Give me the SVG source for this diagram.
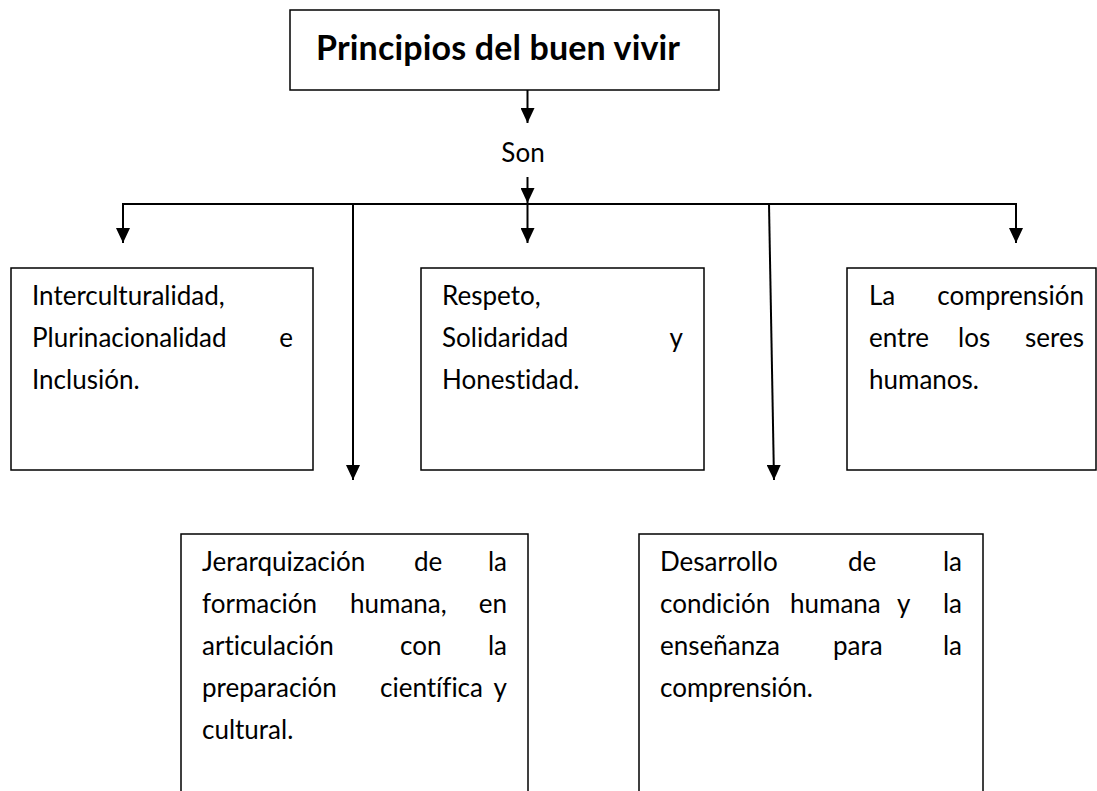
<svg xmlns="http://www.w3.org/2000/svg" width="1097" height="791" viewBox="0 0 1097 791">
<style>
.box{fill:#fff;stroke:#000;stroke-width:1.5}
.t{font-family:Lato,"Liberation Sans",sans-serif;font-size:26px;fill:#000;font-variant-ligatures:none;font-feature-settings:"liga" 0,"clig" 0}
.e{text-anchor:end}
.title{font-family:Lato,"Liberation Sans",sans-serif;font-size:34px;font-weight:bold;fill:#000}
.c{stroke:#000;stroke-width:2;fill:none}
</style>
<defs>
<marker id="ah" markerUnits="userSpaceOnUse" markerWidth="15" markerHeight="14" refX="15" refY="7" orient="auto">
<path d="M0,0 L15,7 L0,14 z" fill="#000"/>
</marker>
</defs>
<g id="connectors">
<line class="c" x1="527.5" y1="90" x2="527.5" y2="123" marker-end="url(#ah)"/>
<line class="c" x1="527.5" y1="177" x2="527.5" y2="203" marker-end="url(#ah)"/>
<line class="c" x1="122" y1="204" x2="1017" y2="204"/>
<line class="c" x1="123" y1="204" x2="123" y2="243" marker-end="url(#ah)"/>
<line class="c" x1="527.5" y1="204" x2="527.5" y2="243" marker-end="url(#ah)"/>
<line class="c" x1="1016" y1="204" x2="1016" y2="243" marker-end="url(#ah)"/>
<line class="c" x1="353" y1="204" x2="353" y2="480" marker-end="url(#ah)"/>
<line class="c" x1="769" y1="204" x2="774" y2="480" marker-end="url(#ah)"/>
</g>
<g id="title">
<rect class="box" x="290" y="10" width="429" height="80"/>
<text class="title" x="316" y="60" textLength="364">Principios del buen vivir</text>
</g>
<g id="son">
<text class="t" x="523" y="162" text-anchor="middle">Son</text>
</g>
<g id="n1">
<rect class="box" x="11" y="268" width="302" height="202"/>
<text class="t" x="32" y="305">Interculturalidad,</text>
<text class="t" x="32" y="347">Plurinacionalidad</text>
<text class="t e" x="293" y="347">e</text>
<text class="t" x="32" y="389">Inclusión.</text>
</g>
<g id="n2">
<rect class="box" x="421" y="268" width="283" height="202"/>
<text class="t" x="442" y="305">Respeto,</text>
<text class="t" x="442" y="347">Solidaridad</text>
<text class="t e" x="683" y="347">y</text>
<text class="t" x="442" y="389">Honestidad.</text>
</g>
<g id="n3">
<rect class="box" x="847" y="268" width="249" height="202"/>
<text class="t" x="869" y="305">La</text>
<text class="t e" x="1084" y="305">comprensión</text>
<text class="t" x="869" y="347">entre</text>
<text class="t" x="958" y="347">los</text>
<text class="t e" x="1084" y="347">seres</text>
<text class="t" x="869" y="389">humanos.</text>
</g>
<g id="n4">
<rect class="box" x="181" y="534" width="347" height="280"/>
<text class="t" x="202" y="571">Jerarquización</text>
<text class="t" x="414" y="571">de</text>
<text class="t e" x="507" y="571">la</text>
<text class="t" x="202" y="613">formación</text>
<text class="t" x="350" y="613">humana,</text>
<text class="t e" x="507" y="613">en</text>
<text class="t" x="202" y="655">articulación</text>
<text class="t" x="400" y="655">con</text>
<text class="t e" x="507" y="655">la</text>
<text class="t" x="202" y="697">preparación</text>
<text class="t" x="380" y="697">científica</text>
<text class="t e" x="507" y="697">y</text>
<text class="t" x="202" y="739">cultural.</text>
</g>
<g id="n5">
<rect class="box" x="639" y="534" width="344" height="280"/>
<text class="t" x="660" y="571">Desarrollo</text>
<text class="t" x="848" y="571">de</text>
<text class="t e" x="962" y="571">la</text>
<text class="t" x="660" y="613">condición</text>
<text class="t" x="790" y="613">humana</text>
<text class="t" x="897" y="613">y</text>
<text class="t e" x="962" y="613">la</text>
<text class="t" x="660" y="655">enseñanza</text>
<text class="t" x="833" y="655">para</text>
<text class="t e" x="962" y="655">la</text>
<text class="t" x="660" y="697">comprensión.</text>
</g>
</svg>
